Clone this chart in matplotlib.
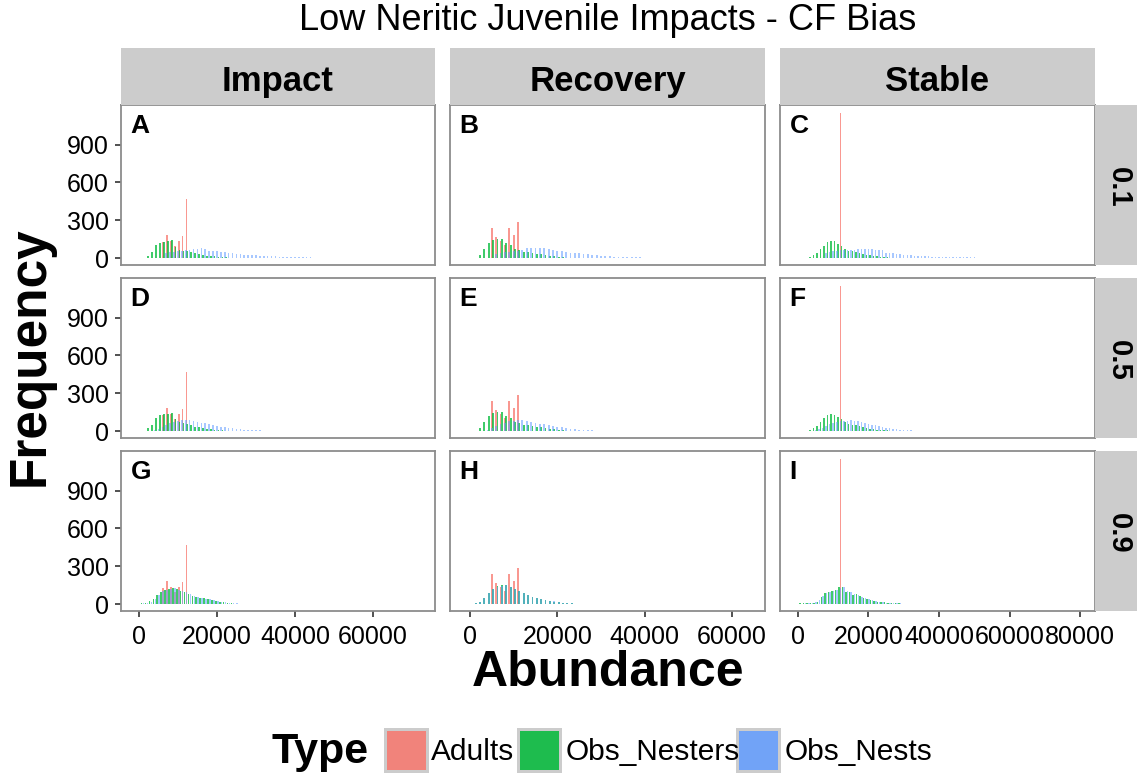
import matplotlib
matplotlib.use("Agg")
import matplotlib.pyplot as plt
from matplotlib.patches import Rectangle

plt.rcParams['font.family'] = ['Liberation Sans', 'DejaVu Sans']

# ---------------- text / categories ----------------
title = "Low Neritic Juvenile Impacts - CF Bias"
col_labels = ["Impact", "Recovery", "Stable"]
row_labels = ["0.1", "0.5", "0.9"]
panel_letters = ["A", "B", "C", "D", "E", "F", "G", "H", "I"]
type_names = ["Adults", "Obs_Nesters", "Obs_Nests"]
type_colors = ["#F8766D", "#00BA38", "#619CFF"]
y_ticks = [0, 300, 600, 900]
x_ticks_impact = [0, 20000, 40000, 60000]
x_ticks_recovery = [0, 20000, 40000, 60000]
x_ticks_stable = [0, 20000, 40000, 60000, 80000]
bin_width = 1000  # histogram bin width (abundance units)

# ---------------- data: counts per bin, bins start at *_start ----------------
# Column "Impact"
adults_impact_start = 6200
adults_impact = [125, 185, 135, 95, 135, 175, 470]

nesters_A_start = 2400
nesters_A = [20, 48, 100, 122, 130, 135, 140, 88, 66, 60, 58, 45, 38, 30, 25, 20, 18, 15, 12, 8, 5, 3]
nests_A_start = 7000
nests_A = [40, 45, 50, 55, 58, 62, 68, 72, 70, 76,
           75, 60, 56, 55, 52, 48, 40, 38, 35, 30,
           27, 25, 23, 21, 19, 17, 15, 14, 13, 12,
           11, 10, 9, 8, 7, 6, 5, 5, 4, 3,
           3, 2, 2, 0, 0, 0, 0, 0, 0, 0,
           0, 0, 0, 3]

nesters_D_start = 2400
nesters_D = [22, 50, 105, 125, 132, 138, 142, 92, 70, 62, 58, 45, 36, 30, 24, 20, 16, 12, 9, 6, 4, 2]
nests_D_start = 4000
nests_D = [10, 20, 35, 50, 65, 75, 82, 85, 86, 84,
           80, 75, 68, 62, 55, 48, 42, 36, 30, 26,
           22, 18, 15, 12, 10, 8, 6, 5, 4, 3,
           2, 2]

nesters_G_start = 700
nesters_G = [8, 10, 24, 37, 72, 98, 111, 119, 125, 117, 106, 98, 77, 64, 53, 50, 45, 40, 32, 27,
             19, 16, 11, 6, 4, 3, 2]
nests_G_start = 1200
nests_G = [6, 12, 20, 40, 70, 100, 115, 120, 128, 115, 104, 95, 80, 62, 55, 50, 44, 38, 30, 25,
           20, 15, 10, 7, 5, 4, 3, 3, 2, 2]

# Column "Recovery"
adults_recovery_start = 5000
adults_recovery = [236, 170, 135, 103, 236, 185, 287]

nesters_B_start = 2300
nesters_B = [27, 74, 119, 141, 149, 149, 117, 106, 74, 61, 50, 45, 40, 35, 30, 25, 20, 15, 10, 6, 3]
nests_B_start = 6000
nests_B = [30, 40, 45, 50, 55, 60, 65, 78, 80, 82,
           78, 80, 70, 62, 58, 53, 50, 44, 42, 40,
           36, 30, 28, 25, 20, 16, 14, 12, 10, 9,
           8, 7, 6, 5, 4, 3, 3, 0, 0, 0,
           0, 3]

nesters_E_start = 2300
nesters_E = [27, 74, 119, 141, 149, 149, 117, 106, 74, 61, 50, 45, 40, 35, 30, 25, 20, 15, 10, 6, 3]
nests_E_start = 4000
nests_E = [10, 22, 40, 55, 68, 76, 82, 85, 84, 80,
           74, 68, 60, 54, 48, 42, 36, 30, 25, 20,
           16, 12, 9, 7, 5, 3, 2]

nesters_H_start = 1300
nesters_H = [8, 20, 50, 90, 120, 140, 148, 150, 135, 120, 100, 85, 70, 58, 48, 40, 32, 26, 20, 15,
             11, 8, 5, 3, 2]
nests_H_start = 1300
nests_H = [6, 18, 45, 85, 118, 138, 145, 148, 138, 122, 104, 88, 72, 60, 50, 42, 34, 28, 22, 17,
           12, 9, 6, 4, 3, 2, 2, 1]

# Column "Stable"
adults_stable_start = 12000
adults_stable = [1150]

nesters_C_start = 3400
nesters_C = [5, 21, 40, 72, 98, 127, 138, 133, 114, 96, 74, 58, 53, 48, 40, 32, 27, 21, 18, 13,
             10, 8, 6, 4, 3]
nests_C_start = 8000
nests_C = [40, 50, 55, 60, 62, 64, 66, 68, 66, 70,
           70, 72, 70, 72, 68, 66, 62, 42, 40, 38,
           35, 30, 27, 27, 24, 20, 18, 15, 13, 13,
           12, 11, 10, 10, 9, 8, 8, 7, 7, 6,
           6, 5, 5, 4, 4, 3, 3, 3, 2, 2,
           0, 0, 0, 0, 0, 0, 0, 3]

nesters_F_start = 3400
nesters_F = [6, 22, 42, 75, 100, 125, 136, 130, 112, 94, 72, 58, 52, 46, 40, 32, 26, 20, 16, 12,
             9, 7, 5, 3, 2]
nests_F_start = 5000
nests_F = [8, 15, 25, 40, 55, 65, 72, 78, 80, 82,
           84, 82, 78, 72, 66, 60, 52, 45, 38, 32,
           27, 22, 18, 14, 11, 8, 6, 5, 4, 3,
           2, 2]

nesters_I_start = 600
nesters_I = [5, 6, 8, 10, 12, 16, 58, 90, 93, 106, 111, 133, 138, 98, 98, 72, 80, 64, 45, 37,
             32, 21, 19, 16, 13, 11, 8, 6, 5, 4, 3, 3, 2]
nests_I_start = 1100
nests_I = [4, 6, 8, 10, 14, 30, 65, 88, 96, 104, 115, 128, 132, 105, 95, 78, 74, 60, 46, 38,
           30, 23, 18, 15, 12, 10, 8, 6, 5, 4, 3, 3, 2, 2, 2]

# ---------------- assemble panels ----------------
adults_by_col = [(adults_impact_start, adults_impact),
                 (adults_recovery_start, adults_recovery),
                 (adults_stable_start, adults_stable)]
panel_series = [
    [(nesters_A_start, nesters_A, nests_A_start, nests_A),
     (nesters_B_start, nesters_B, nests_B_start, nests_B),
     (nesters_C_start, nesters_C, nests_C_start, nests_C)],
    [(nesters_D_start, nesters_D, nests_D_start, nests_D),
     (nesters_E_start, nesters_E, nests_E_start, nests_E),
     (nesters_F_start, nesters_F, nests_F_start, nests_F)],
    [(nesters_G_start, nesters_G, nests_G_start, nests_G),
     (nesters_H_start, nesters_H, nests_H_start, nests_H),
     (nesters_I_start, nesters_I, nests_I_start, nests_I)],
]
x_ticks_by_col = [x_ticks_impact, x_ticks_recovery, x_ticks_stable]
x_lims = [(-4600, 75900), (-4580, 67550), (-5100, 84250)]
y_lim = (-55, 1215)
type_alpha = [0.75, 0.75, 0.55]

# ---------------- layout (pixels) ----------------
W, H = 1137, 780
fig = plt.figure(figsize=(W / 100, H / 100), dpi=100)


def box(x0, y0, x1, y1):
    return [x0 / W, 1 - y1 / H, (x1 - x0) / W, (y1 - y0) / H]


col_x = [(121, 435), (450, 765), (780, 1095)]
row_y = [(105, 265), (278, 438), (451, 611)]
strip_bg = "#CCCCCC"
border_col = "#8C8C8C"

for r in range(3):
    for c in range(3):
        ax = fig.add_axes(box(col_x[c][0], row_y[r][0], col_x[c][1], row_y[r][1]))
        series = [adults_by_col[c],
                  (panel_series[r][c][0], panel_series[r][c][1]),
                  (panel_series[r][c][2], panel_series[r][c][3])]
        bw = bin_width * 0.42
        for (start, counts), colr, a in zip(series, type_colors, type_alpha):
            xs = [start + i * bin_width for i in range(len(counts))]
            ax.bar(xs, counts, width=bw, color=colr, alpha=a, linewidth=0)
        ax.set_xlim(*x_lims[c])
        ax.set_ylim(*y_lim)
        ax.set_facecolor("white")
        for s in ax.spines.values():
            s.set_color(border_col)
            s.set_linewidth(1.3)
        ax.set_yticks(y_ticks)
        ax.set_xticks(x_ticks_by_col[c])
        ax.tick_params(axis='both', length=4, width=1.2, color="#333333",
                       labelsize=18, labelcolor="black")
        ax.tick_params(axis='y', pad=5)
        ax.tick_params(axis='x', pad=6)
        if c != 0:
            ax.tick_params(axis='y', left=False, labelleft=False)
        else:
            ax.set_yticklabels([str(v) for v in y_ticks])
        if r != 2:
            ax.tick_params(axis='x', bottom=False, labelbottom=False)
        else:
            ax.set_xticklabels([str(v) for v in x_ticks_by_col[c]])
        ax.text(0.03, 0.945, panel_letters[r * 3 + c], transform=ax.transAxes,
                fontsize=19, fontweight='bold', ha='left', va='top')

# top strips
for c in range(3):
    sax = fig.add_axes(box(col_x[c][0], 48, col_x[c][1], 105))
    sax.set_facecolor(strip_bg)
    sax.set_xticks([]); sax.set_yticks([])
    for s in sax.spines.values():
        s.set_visible(False)
    sax.text(0.5, 0.42, col_labels[c], ha='center', va='center', fontsize=25,
             fontweight='bold', transform=sax.transAxes)

# right strips
for r in range(3):
    sax = fig.add_axes(box(1095, row_y[r][0], 1145, row_y[r][1]))
    sax.set_facecolor(strip_bg)
    sax.set_xticks([]); sax.set_yticks([])
    for s in sax.spines.values():
        s.set_visible(False)
    fig.text(1119 / W, 1 - ((row_y[r][0] + row_y[r][1]) / 2 + 2) / H, row_labels[r],
             rotation=-90, ha='center', va='center', fontsize=21, fontweight='bold')

# titles
fig.text(608 / W, 1 - 21 / H, title, ha='center', va='center', fontsize=26)
fig.text(608 / W, 1 - 673 / H, "Abundance", ha='center', va='center', fontsize=36,
         fontweight='bold')
fig.text(30 / W, 1 - 356 / H, "Frequency", ha='center', va='center', fontsize=37,
         fontweight='bold', rotation=90)

# legend
fig.text(320 / W, 1 - 752 / H, "Type", ha='center', va='center', fontsize=31,
         fontweight='bold')
key_x = [384, 517, 736]
label_x = [431, 566, 785]
for kx, lx, colr, name in zip(key_x, label_x, type_colors, type_names):
    fig.patches.append(Rectangle((kx / W, 1 - 773 / H), 45 / W, 45 / H,
                                 transform=fig.transFigure, facecolor="#CCCCCC",
                                 edgecolor="none"))
    fig.patches.append(Rectangle(((kx + 3) / W, 1 - 770 / H), 39 / W, 39 / H,
                                 transform=fig.transFigure, facecolor=colr,
                                 alpha=0.85, edgecolor="none"))
    fig.text(lx / W, 1 - 752 / H, name, ha='left', va='center', fontsize=21.5)

fig.savefig("out.png", dpi=100)
